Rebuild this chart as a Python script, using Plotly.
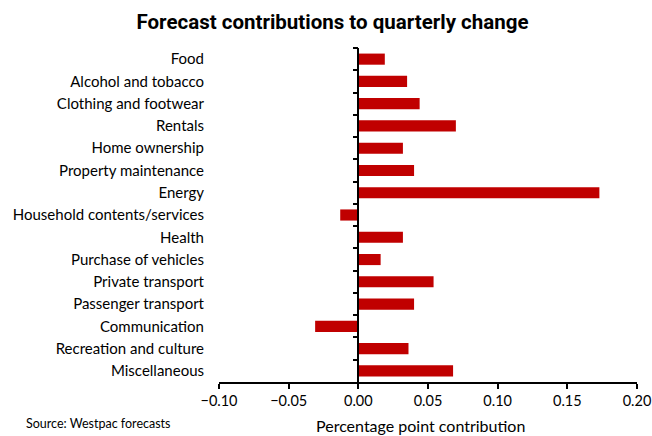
import plotly.graph_objects as go

categories = ["Food", "Alcohol and tobacco", "Clothing and footwear", "Rentals",
              "Home ownership", "Property maintenance", "Energy",
              "Household contents/services", "Health", "Purchase of vehicles",
              "Private transport", "Passenger transport", "Communication",
              "Recreation and culture", "Miscellaneous"]
values = [0.019, 0.035, 0.044, 0.070, 0.032, 0.040, 0.173, -0.013, 0.032,
          0.016, 0.054, 0.040, -0.031, 0.036, 0.068]
x_ticks = [-0.10, -0.05, 0.00, 0.05, 0.10, 0.15, 0.20]
x_range = [-0.10, 0.20]

FONT = "Lato"
W, H = 652, 436
L, R, T, B = 219, 15, 48, 54
PW, PH = W - L - R, H - T - B

fig = go.Figure()
fig.add_trace(go.Bar(x=values, y=categories, orientation="h", width=0.5,
                     marker=dict(color="#C00000", line=dict(width=0)),
                     hoverinfo="skip"))
# invisible trace to carry the zero-positioned category axis
fig.add_trace(go.Scatter(x=values, y=categories, yaxis="y2", mode="markers",
                         marker=dict(opacity=0, size=1), hoverinfo="skip",
                         showlegend=False))

zero_pos = (0 - x_range[0]) / (x_range[1] - x_range[0])
y_range = [len(categories) - 0.5, -0.5]

fig.update_layout(
    width=W, height=H,
    margin=dict(l=L, r=R, t=T, b=B, autoexpand=False),
    paper_bgcolor="white", plot_bgcolor="white",
    showlegend=False,
    font=dict(family=FONT, color="#000000"),
    title=dict(text="<b>Forecast contributions to quarterly change</b>",
               x=332.5 / W, xanchor="center", y=1 - 22 / H, yanchor="middle",
               font=dict(size=20.5, family="Roboto", color="#000000")),
    xaxis=dict(range=x_range, tickvals=x_ticks, tickformat=".2f",
               showgrid=False, zeroline=False, automargin=False,
               showline=True, linecolor="black", linewidth=1.5,
               ticks="outside", ticklen=5, tickwidth=1.5, tickcolor="black",
               ticklabeloverflow="allow",
               tickfont=dict(size=14.5, family=FONT)),
    yaxis=dict(categoryorder="array", categoryarray=categories,
               range=y_range, showgrid=False, zeroline=False,
               automargin=False,
               showline=False, ticks="", ticklabelstandoff=14,
               tickfont=dict(size=15, family=FONT)),
    yaxis2=dict(overlaying="y", matches="y", anchor="free", position=zero_pos,
                side="left", showticklabels=False, showgrid=False, zeroline=False,
                automargin=False,
                showline=True, linecolor="black", linewidth=1.5,
                ticks="outside", ticklen=5, tickwidth=1.5, tickcolor="black",
                tickson="boundaries",
                categoryorder="array", categoryarray=categories),
)
fig.add_annotation(text="Percentage point contribution", xref="paper", yref="paper",
                   x=(420.5 - L) / PW, y=-(425 - (T + PH)) / PH,
                   xanchor="center", yanchor="middle", showarrow=False,
                   font=dict(size=16, family=FONT, color="#000000"))
fig.add_annotation(text="Source: Westpac forecasts", xref="paper", yref="paper",
                   x=-(L - 24) / PW, y=-(423 - (T + PH)) / PH,
                   xanchor="left", yanchor="middle", showarrow=False,
                   font=dict(size=12.5, family=FONT, color="#000000"))
fig.write_html("out.html")
